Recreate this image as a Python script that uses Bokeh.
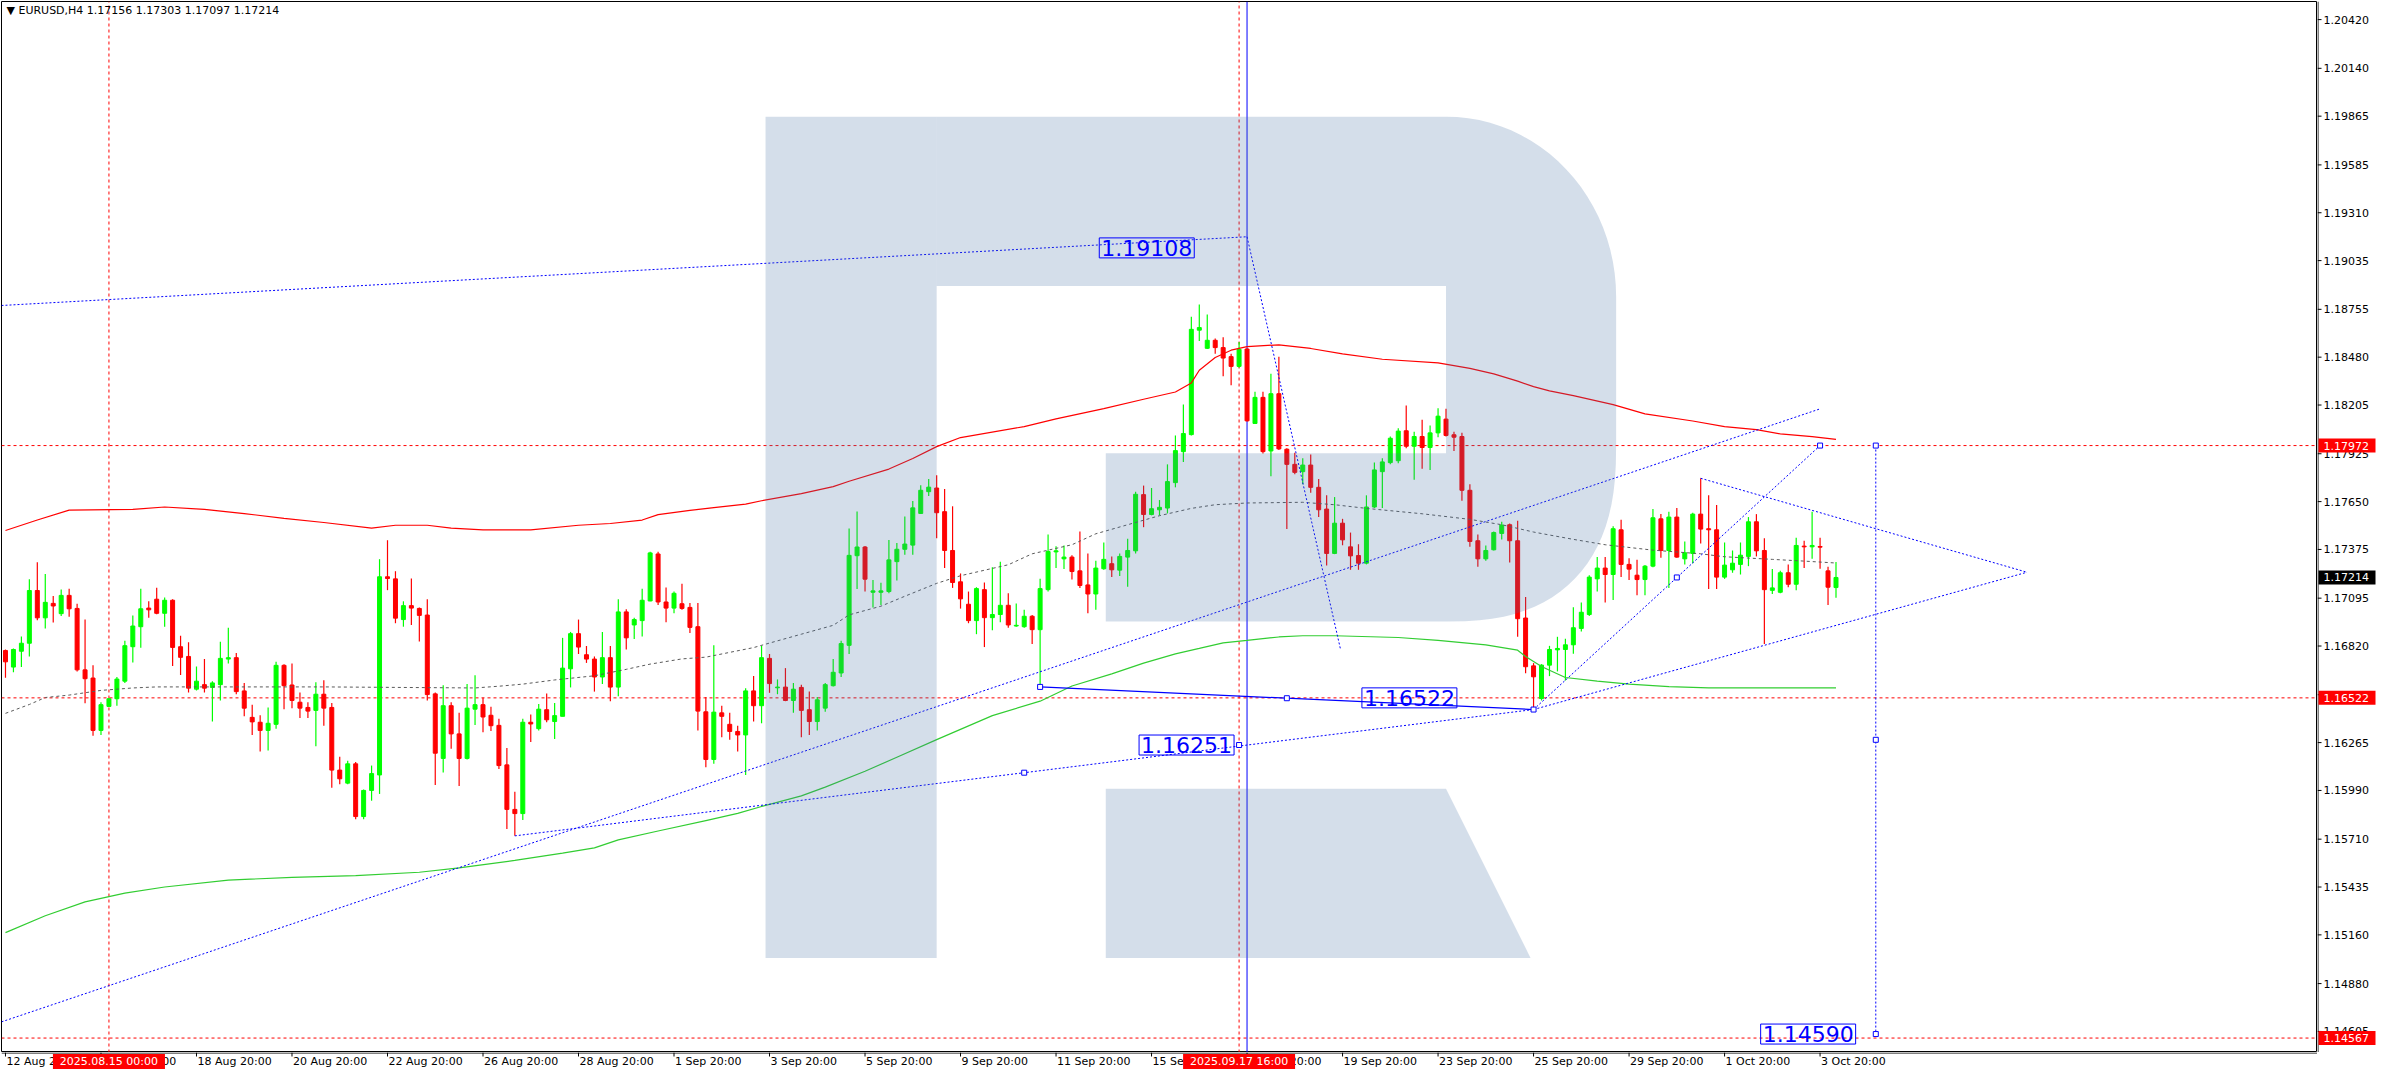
import math
from bokeh.plotting import figure
from bokeh.layouts import row, column
from bokeh.models import Range1d, Label, ColumnDataSource
from bokeh.core.properties import value
from bokeh.embed import file_html
from bokeh.resources import INLINE

# ---------------- data (EURUSD H4) ----------------
bars = list(range(231))
opens = [1.16794,1.16699,1.16790,1.16836,1.17139,1.16982,1.17065,1.17006,1.17111,1.17036,
1.16683,1.16636,1.16335,1.16473,1.16517,1.16618,1.16816,1.16931,1.17038,1.17089,
1.17008,1.17083,1.16816,1.16760,1.16572,1.16598,1.16582,1.16598,1.16745,1.16753,
1.16562,1.16410,1.16382,1.16335,1.16370,1.16709,1.16596,1.16497,1.16467,1.16450,
1.16543,1.16467,1.16107,1.16032,1.16143,1.15840,1.15990,1.16079,1.17218,1.17206,
1.16972,1.17052,1.17036,1.16998,1.16545,1.16174,1.16477,1.16315,1.16174,1.16457,
1.16483,1.16422,1.16364,1.16137,1.15881,1.15857,1.16382,1.16345,1.16454,1.16386,
1.16416,1.16689,1.16891,1.16770,1.16745,1.16642,1.16753,1.16584,1.17016,1.16941,
1.16966,1.17079,1.17349,1.17073,1.17038,1.17063,1.17042,1.16931,1.16442,1.16168,
1.16436,1.16370,1.16329,1.16309,1.16562,1.16477,1.16749,1.16580,1.16584,1.16507,
1.16582,1.16454,1.16386,1.16463,1.16592,1.16665,1.16824,1.17339,1.17389,1.17129,
1.17129,1.17133,1.17305,1.17376,1.17400,1.17582,1.17707,1.17728,1.17592,1.17369,
1.17189,1.17060,1.16966,1.17144,1.16983,1.17001,1.17054,1.16935,1.16931,1.16991,
1.16914,1.17144,1.17361,1.17321,1.17331,1.17252,1.17171,1.17119,1.17264,1.17293,
1.17256,1.17331,1.17367,1.17690,1.17576,1.17603,1.17613,1.17759,1.17937,1.18035,
1.18635,1.18531,1.18577,1.18535,1.18483,1.18427,1.18527,1.18099,1.18249,1.17941,
1.18270,1.17951,1.17864,1.17822,1.17860,1.17732,1.17607,1.17352,1.17526,1.17390,
1.17340,1.17296,1.17619,1.17822,1.17874,1.17885,1.18057,1.17968,1.18024,1.17961,
1.18045,1.18124,1.18034,1.18024,1.17715,1.17425,1.17321,1.17373,1.17467,1.17517,
1.17425,1.16981,1.16706,1.16518,1.16710,1.16798,1.16800,1.16827,1.16921,1.17001,
1.17206,1.17268,1.17231,1.17488,1.17289,1.17227,1.17202,1.17279,1.17551,1.17369,
1.17561,1.17321,1.17352,1.17578,1.17494,1.17488,1.17216,1.17258,1.17289,1.17335,
1.17534,1.17369,1.17140,1.17129,1.17241,1.17175,1.17394,1.17390,1.17392,1.17252,
1.17156]
highs = [1.16800,1.16806,1.16875,1.17204,1.17301,1.17234,1.17107,1.17145,1.17149,1.17063,
1.16972,1.16709,1.16497,1.16521,1.16642,1.16850,1.16996,1.17149,1.17077,1.17155,
1.17099,1.17089,1.16879,1.16842,1.16703,1.16745,1.16618,1.16844,1.16925,1.16780,
1.16608,1.16483,1.16422,1.16467,1.16729,1.16715,1.16719,1.16553,1.16497,1.16612,
1.16624,1.16493,1.16184,1.16160,1.16153,1.15996,1.16133,1.17319,1.17428,1.17250,
1.17077,1.17208,1.17042,1.17089,1.16553,1.16594,1.16497,1.16436,1.16602,1.16652,
1.16523,1.16471,1.16402,1.16234,1.15982,1.16402,1.16426,1.16487,1.16547,1.16493,
1.16867,1.16901,1.16972,1.16820,1.16760,1.16901,1.16820,1.17089,1.17032,1.16982,
1.17149,1.17362,1.17362,1.17157,1.17133,1.17178,1.17067,1.17067,1.16527,1.16824,
1.16477,1.16436,1.16362,1.16578,1.16648,1.16820,1.16774,1.16628,1.16693,1.16608,
1.16598,1.16558,1.16527,1.16608,1.16745,1.16850,1.17496,1.17593,1.17395,1.17200,
1.17184,1.17429,1.17412,1.17564,1.17654,1.17744,1.17780,1.17801,1.17722,1.17623,
1.17237,1.17133,1.17158,1.17185,1.17273,1.17304,1.17123,1.17064,1.17029,1.16998,
1.17206,1.17461,1.17394,1.17398,1.17342,1.17478,1.17352,1.17310,1.17415,1.17335,
1.17352,1.17436,1.17707,1.17742,1.17728,1.17659,1.17864,1.18030,1.18208,1.18713,
1.18782,1.18725,1.18587,1.18594,1.18500,1.18567,1.18531,1.18281,1.18281,1.18385,
1.18483,1.17957,1.17930,1.17899,1.17920,1.17780,1.17686,1.17676,1.17551,1.17472,
1.17405,1.17686,1.17874,1.17899,1.18024,1.18072,1.18202,1.18051,1.18120,1.18087,
1.18187,1.18183,1.18051,1.18045,1.17749,1.17461,1.17398,1.17478,1.17534,1.17524,
1.17540,1.17102,1.16722,1.16716,1.16821,1.16873,1.16862,1.17043,1.17070,1.17227,
1.17331,1.17331,1.17509,1.17545,1.17325,1.17316,1.17285,1.17607,1.17578,1.17592,
1.17613,1.17421,1.17586,1.17784,1.17686,1.17630,1.17415,1.17369,1.17415,1.17561,
1.17578,1.17440,1.17262,1.17252,1.17289,1.17442,1.17425,1.17592,1.17442,1.17275,
1.17303]
lows = [1.16638,1.16669,1.16699,1.16760,1.16968,1.16921,1.16955,1.16992,1.16988,1.16673,
1.16491,1.16305,1.16309,1.16473,1.16477,1.16608,1.16725,1.16810,1.16982,1.17002,
1.16931,1.16705,1.16654,1.16553,1.16564,1.16553,1.16386,1.16507,1.16719,1.16543,
1.16416,1.16309,1.16214,1.16220,1.16345,1.16457,1.16463,1.16406,1.16406,1.16244,
1.16362,1.16006,1.16026,1.16026,1.15824,1.15824,1.15931,1.15970,1.17141,1.16951,
1.16931,1.16941,1.16846,1.16507,1.16022,1.16093,1.16230,1.16016,1.16168,1.16366,
1.16325,1.16331,1.16113,1.15768,1.15729,1.15820,1.16269,1.16335,1.16382,1.16285,
1.16416,1.16582,1.16774,1.16723,1.16558,1.16602,1.16503,1.16531,1.16800,1.16861,
1.16875,1.17077,1.17056,1.16957,1.17008,1.17028,1.16895,1.16335,1.16123,1.16143,
1.16295,1.16281,1.16214,1.16079,1.16386,1.16376,1.16551,1.16543,1.16503,1.16436,
1.16295,1.16309,1.16335,1.16442,1.16588,1.16642,1.16774,1.17147,1.17133,1.17042,
1.17056,1.17123,1.17196,1.17345,1.17345,1.17578,1.17682,1.17440,1.17268,1.17154,
1.17035,1.16951,1.16888,1.16814,1.16910,1.16956,1.16925,1.16931,1.16925,1.16831,
1.16585,1.17133,1.17268,1.17262,1.17202,1.17154,1.17008,1.17029,1.17258,1.17216,
1.17223,1.17160,1.17352,1.17503,1.17571,1.17571,1.17582,1.17732,1.17878,1.18030,
1.18573,1.18527,1.18500,1.18371,1.18318,1.18421,1.18110,1.18099,1.17926,1.17795,
1.17947,1.17492,1.17807,1.17749,1.17701,1.17561,1.17283,1.17348,1.17399,1.17258,
1.17258,1.17289,1.17613,1.17613,1.17864,1.17870,1.17957,1.17776,1.17839,1.17832,
1.18020,1.18024,1.17941,1.17655,1.17390,1.17275,1.17310,1.17369,1.17432,1.17300,
1.16873,1.16664,1.16455,1.16507,1.16647,1.16674,1.16622,1.16775,1.16904,1.16993,
1.17133,1.17070,1.17085,1.17216,1.17199,1.17112,1.17112,1.17272,1.17327,1.17154,
1.17327,1.17289,1.17296,1.17409,1.17148,1.17148,1.17206,1.17241,1.17231,1.17279,
1.17335,1.16831,1.17119,1.17123,1.17158,1.17140,1.17268,1.17321,1.17264,1.17056,
1.17097]
closes = [1.16729,1.16800,1.16836,1.17139,1.16982,1.17071,1.17050,1.17111,1.17034,1.16683,
1.16632,1.16335,1.16483,1.16517,1.16630,1.16822,1.16935,1.17034,1.17028,1.17008,
1.17083,1.16812,1.16755,1.16578,1.16618,1.16578,1.16608,1.16749,1.16753,1.16558,
1.16463,1.16384,1.16335,1.16376,1.16709,1.16592,1.16507,1.16463,1.16446,1.16543,
1.16463,1.16107,1.16057,1.16143,1.15840,1.15990,1.16087,1.17218,1.17208,1.16980,
1.17052,1.17038,1.16996,1.16541,1.16204,1.16477,1.16315,1.16174,1.16463,1.16483,
1.16412,1.16362,1.16133,1.15881,1.15857,1.16382,1.16372,1.16457,1.16396,1.16420,
1.16693,1.16891,1.16814,1.16745,1.16642,1.16753,1.16584,1.17016,1.16867,1.16972,
1.17083,1.17355,1.17073,1.17038,1.17123,1.17036,1.16927,1.16446,1.16168,1.16440,
1.16416,1.16329,1.16309,1.16562,1.16477,1.16753,1.16604,1.16584,1.16507,1.16572,
1.16450,1.16386,1.16511,1.16598,1.16669,1.16834,1.17341,1.17389,1.17204,1.17137,
1.17137,1.17315,1.17376,1.17406,1.17614,1.17715,1.17733,1.17586,1.17369,1.17185,
1.17091,1.16966,1.17150,1.16983,1.17001,1.17054,1.16941,1.16939,1.16991,1.16914,
1.17150,1.17363,1.17367,1.17331,1.17248,1.17168,1.17119,1.17268,1.17318,1.17258,
1.17335,1.17369,1.17692,1.17576,1.17609,1.17617,1.17765,1.17943,1.18041,1.18640,
1.18650,1.18577,1.18535,1.18475,1.18427,1.18525,1.18114,1.18249,1.17937,1.18270,
1.17953,1.17864,1.17818,1.17860,1.17732,1.17603,1.17352,1.17526,1.17430,1.17338,
1.17296,1.17619,1.17832,1.17878,1.18014,1.18055,1.17968,1.18024,1.17961,1.18045,
1.18141,1.18030,1.18020,1.17715,1.17421,1.17321,1.17369,1.17472,1.17515,1.17425,
1.16977,1.16701,1.16643,1.16710,1.16800,1.16806,1.16827,1.16925,1.17014,1.17216,
1.17268,1.17231,1.17494,1.17289,1.17262,1.17202,1.17279,1.17557,1.17369,1.17561,
1.17331,1.17356,1.17578,1.17492,1.17488,1.17216,1.17285,1.17296,1.17342,1.17534,
1.17367,1.17144,1.17154,1.17241,1.17175,1.17398,1.17390,1.17398,1.17388,1.17158,
1.17214]

# moving averages (readings at selected bars)
red_ma_bar = [0,4,8,16,20,25,30,35,40,46,49,53,56,60,66,72,76,80,82,86,89,93,95,100,104,106,111,114,117,120,
              128,132,138,143,147,149,150,152,154,156,160,164,168,173,180,184,187,190,192,194,197,202,206,212,216,220,223,227,230]
red_ma_val = [1.17484,1.17544,1.17601,1.17605,1.17619,1.17605,1.17581,1.17554,1.17530,1.17498,1.17514,1.17514,1.17498,
              1.17488,1.17488,1.17514,1.17524,1.17544,1.17575,1.17599,1.17615,1.17635,1.17655,1.17696,1.17736,1.17767,
              1.17837,1.17898,1.17966,1.18018,1.18081,1.18125,1.18184,1.18238,1.18280,1.18332,1.18405,1.18478,1.18520,
              1.18541,1.18551,1.18530,1.18499,1.18468,1.18447,1.18416,1.18384,1.18342,1.18311,1.18286,1.18259,1.18207,
              1.18154,1.18113,1.18081,1.18064,1.18039,1.18023,1.18008]
green_ma_bar = [0,5,10,15,20,28,36,44,52,57,64,70,74,77,82,88,92,95,100,103,108,112,117,124,130,134,139,143,147,150,
                153,156,160,163,167,175,180,186,190,191,193,194,196,200,204,209,214,230]
green_ma_val = [1.15173,1.15270,1.15350,1.15400,1.15435,1.15475,1.15490,1.15501,1.15520,1.15545,1.15588,1.15630,1.15660,
                1.15706,1.15757,1.15817,1.15858,1.15898,1.15959,1.16009,1.16100,1.16181,1.16282,1.16420,1.16503,1.16590,
                1.16660,1.16722,1.16775,1.16806,1.16838,1.16852,1.16872,1.16879,1.16879,1.16869,1.16852,1.16827,1.16796,
                1.16760,1.16702,1.16681,1.16639,1.16618,1.16601,1.16587,1.16580,1.16580]
gray_ma_bar = [0,3,5,8,12,16,19,40,59,62,65,69,74,78,81,85,88,94,96,100,104,106,110,113,117,120,126,129,134,137,141,145,
               149,152,156,163,167,171,178,184,188,192,194,197,201,207,213,216,222,226,230]
gray_ma_val = [1.16433,1.16484,1.16524,1.16538,1.16565,1.16579,1.16585,1.16585,1.16579,1.16589,1.16601,1.16625,1.16649,
               1.16686,1.16716,1.16746,1.16756,1.16811,1.16837,1.16888,1.16939,1.16999,1.17049,1.17106,1.17180,1.17224,
               1.17287,1.17350,1.17402,1.17465,1.17517,1.17569,1.17611,1.17632,1.17642,1.17646,1.17632,1.17611,1.17580,
               1.17548,1.17517,1.17475,1.17458,1.17433,1.17402,1.17371,1.17350,1.17333,1.17318,1.17308,1.17297]

# horizontal levels and labels
level_prices = [1.17972, 1.16522, 1.14567]
marked_bars = [13, 155]
marked_times = ["2025.08.15 00:00", "2025.09.17 16:00"]
cursor_bar = 156

# trend lines (bar, price) pairs
dotted_lines = [
    ((-0.5, 1.18777), (156, 1.19172)),
    ((156, 1.19172), (167.75, 1.16800)),
    ((-0.5, 1.14660), (228, 1.18183)),
    ((64, 1.15729), (192, 1.16455)),
    ((192, 1.16455), (228, 1.17972)),
    ((213, 1.17784), (254, 1.17244)),
    ((192, 1.16455), (254, 1.17244)),
    ((235, 1.17972), (235, 1.14590)),
]
solid_line = ((130, 1.16585), (192, 1.16455))
anchor_bar = [130, 161, 192, 128, 155, 210, 228, 235, 235, 235]
anchor_val = [1.16585, 1.16520, 1.16455, 1.16092, 1.16251, 1.17214, 1.17972, 1.17972, 1.16281, 1.14590]
tag_text_val = [1.19108, 1.16251, 1.16522, 1.14590]
tag_bar = [143.4, 148.4, 176.4, 226.5]

y_ticks = [1.20420,1.20140,1.19865,1.19585,1.19310,1.19035,1.18755,1.18480,1.18205,1.17925,1.17650,
           1.17375,1.17095,1.16820,1.16540,1.16265,1.15990,1.15710,1.15435,1.15160,1.14880,1.14605]
date_ticks = [0,12,24,36,48,60,72,84,96,108,120,132,144,156,168,180,192,204,216,228]
date_labels = ["12 Aug 20:00","14 Aug 20:00","18 Aug 20:00","20 Aug 20:00","22 Aug 20:00","26 Aug 20:00",
               "28 Aug 20:00","1 Sep 20:00","3 Sep 20:00","5 Sep 20:00","9 Sep 20:00","11 Sep 20:00",
               "15 Sep 20:00","17 Sep 20:00","19 Sep 20:00","23 Sep 20:00","25 Sep 20:00","29 Sep 20:00",
               "1 Oct 20:00","3 Oct 20:00"]

# ---------------- layout ----------------
X0, X1 = -0.5, 290.5
YB, YT = 1.14484, 1.20524
REF_W, REF_H = 2328.0, 1068.0
FONT = "DejaVu Sans"
FW, FH = 2316, 1051      # chart frame
RW, BH = 59, 22          # price-scale strip width, time-scale strip height

def bx(px):
    return X0 + px * (X1 - X0) / REF_W

def py(pyy):
    return YT - pyy * (YT - YB) / REF_H

common = dict(output_backend="svg", toolbar_location=None, background_fill_color="white",
              border_fill_color="white", x_axis_location=None, y_axis_location=None)

p = figure(frame_width=FW, frame_height=FH, x_range=Range1d(X0, X1), y_range=Range1d(YB, YT),
           min_border_left=1, min_border_top=1, min_border_right=0, min_border_bottom=0,
           outline_line_color="black", outline_line_width=1, **common)
p.grid.visible = False

# price scale strip (shares the price range of the chart)
pr = figure(frame_width=RW, frame_height=FH, x_range=Range1d(0, RW), y_range=p.y_range,
            min_border_left=0, min_border_top=1, min_border_right=0, min_border_bottom=0,
            outline_line_color=None, **common)
pr.grid.visible = False

# time scale strip (shares the bar range of the chart)
pb = figure(frame_width=FW, frame_height=BH, x_range=p.x_range, y_range=Range1d(0, BH),
            min_border_left=1, min_border_top=0, min_border_right=0, min_border_bottom=0,
            outline_line_color=None, **common)
pb.grid.visible = False

# ---- chart: level lines and vertical markers ----
p.segment(x0=[X0]*len(level_prices), x1=[X1]*len(level_prices), y0=level_prices, y1=level_prices,
          line_color="#ff0000", line_dash="3 3", line_width=1)
p.segment(x0=marked_bars, x1=marked_bars, y0=[YB]*2, y1=[YT]*2, line_color="#ff0000", line_dash="3 3", line_width=1)
p.segment(x0=[cursor_bar], x1=[cursor_bar], y0=[YB], y1=[YT], line_color="#0000ff", line_width=1)

# ---- candles ----
tops = [max(o, c) for o, c in zip(opens, closes)]
bots = [min(o, c) for o, c in zip(opens, closes)]
cols = ["#00ff00" if c >= o else "#ff0000" for o, c in zip(opens, closes)]
src = ColumnDataSource(dict(x=bars, h=highs, l=lows, top=tops, bot=bots, col=cols))
p.segment(x0="x", y0="h", x1="x", y1="l", line_color="col", line_width=1.2, source=src)
p.vbar(x="x", width=0.5, top="top", bottom="bot", fill_color="col", line_color="col", line_width=1, source=src)

# ---- moving averages ----
p.line(red_ma_bar, red_ma_val, line_color="#ff0000", line_width=1.2)
p.line(green_ma_bar, green_ma_val, line_color="#32cd32", line_width=1.2)
p.line(gray_ma_bar, gray_ma_val, line_color="#5a5a5a", line_width=1, line_dash="3 3")

# ---- trend lines ----
p.multi_line(xs=[[a[0], b[0]] for a, b in dotted_lines], ys=[[a[1], b[1]] for a, b in dotted_lines],
             line_color="#0000ff", line_width=1, line_dash="2 2")
p.line([solid_line[0][0], solid_line[1][0]], [solid_line[0][1], solid_line[1][1]], line_color="#0000ff", line_width=1.3)
p.scatter(anchor_bar, anchor_val, marker="square", size=5, fill_color="white", line_color="#0000ff", line_width=1)

# ---- watermark "R" (translucent, over the chart content) ----
def arc(cx, cy, rx, ry, a0, a1, n, k=24):
    pts = []
    for i in range(k + 1):
        t = math.radians(a0 + (a1 - a0) * i / k)
        c, s = math.cos(t), math.sin(t)
        pts.append((cx + rx * math.copysign(abs(c) ** (2.0 / n), c), cy + ry * math.copysign(abs(s) ** (2.0 / n), s)))
    return pts

stem = [(768, 117), (940, 117), (940, 972), (768, 972)]
bowl = [(940, 117), (1452, 117)] + arc(1452, 300, 171, 183, -90, 0, 2.0) + arc(1452, 450, 171, 180, 0, 90, 2.5) + \
       [(1110, 630), (1110, 459), (1452, 459), (1452, 289), (940, 289)]
leg = [(1110, 800), (1452, 800), (1537, 972), (1110, 972)]
shapes = [stem, bowl, leg]
p.patches(xs=[[bx(a) for a, b in s] for s in shapes], ys=[[py(b) for a, b in s] for s in shapes],
          fill_color="#4672a3", fill_alpha=0.23, line_color=None)

# ---- header ----
hdr = "\u25BC EURUSD,H4  %.5f %.5f %.5f %.5f" % (opens[-1], highs[-1], lows[-1], closes[-1])
p.add_layout(Label(x=bx(5), y=py(9), text=hdr, text_font=FONT, text_font_size="11px",
                   text_color="black", text_baseline="middle", text_align="left"))

# ---- blue price tags on the chart ----
for tb, tv in zip(tag_bar, tag_text_val):
    p.add_layout(Label(x=tb, y=tv, text="%.5f" % tv, text_font=FONT, text_font_size="22px",
                       text_color="#0000ff", text_align="center", text_baseline="middle",
                       border_line_color="#0000ff", border_line_width=1, background_fill_color=None,
                       padding=2))

# ---- price scale ----
pr.segment(x0=[0.5], x1=[0.5], y0=[YB], y1=[YT], line_color="black", line_width=1)
pr.segment(x0=[0]*len(y_ticks), x1=[4]*len(y_ticks), y0=y_ticks, y1=y_ticks, line_color="black", line_width=1)
pr.text(x=[6]*len(y_ticks), y=y_ticks, text=["%.5f" % v for v in y_ticks], text_font=value(FONT),
        text_font_size="11px", text_color="black", text_align="left", text_baseline="middle")
tag_vals = level_prices + [closes[-1]]
tag_cols = ["#ff0000"] * len(level_prices) + ["#000000"]
pr.rect(x=[29.5]*len(tag_vals), y=tag_vals, width=57, height=14, height_units="screen",
        fill_color=tag_cols, line_color=None)
pr.text(x=[6]*len(tag_vals), y=tag_vals, text=["%.5f" % v for v in tag_vals], text_font=value(FONT),
        text_font_size="11px", text_color="white", text_align="left", text_baseline="middle")

# ---- time scale ----
pb.segment(x0=[X0], x1=[X1], y0=[BH - 0.5], y1=[BH - 0.5], line_color="black", line_width=1)
pb.segment(x0=date_ticks, x1=date_ticks, y0=[BH]*len(date_ticks), y1=[BH - 4]*len(date_ticks),
           line_color="black", line_width=1)
pb.text(x=date_ticks, y=[BH - 9]*len(date_ticks), x_offset=1, text=date_labels, text_font=value(FONT),
        text_font_size="11px", text_color="black", text_align="left", text_baseline="middle")
pb.rect(x=marked_bars, y=[BH - 9]*len(marked_bars), width=112, width_units="screen", height=15,
        fill_color="#ff0000", line_color=None)
pb.text(x=marked_bars, y=[BH - 9]*len(marked_bars), text=marked_times, text_font=value(FONT),
        text_font_size="11px", text_color="white", text_align="center", text_baseline="middle")

layout = column(row(p, pr), pb)
open("out.html", "w").write(file_html(layout, INLINE))
